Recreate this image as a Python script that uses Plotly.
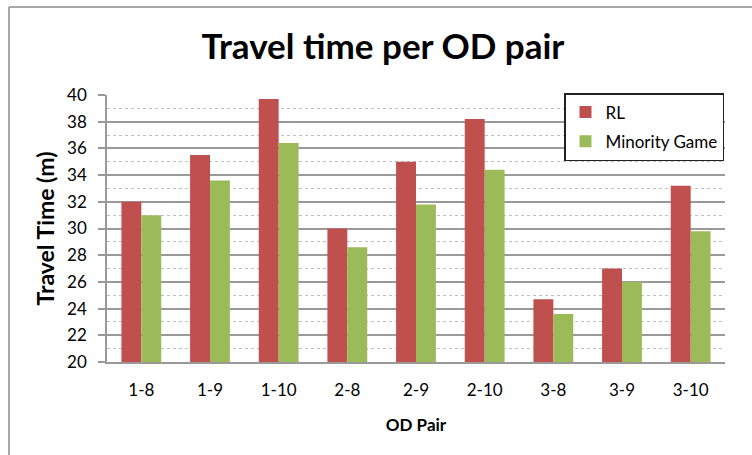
import plotly.graph_objects as go

categories = ["1-8", "1-9", "1-10", "2-8", "2-9", "2-10", "3-8", "3-9", "3-10"]
rl_values = [32.0, 35.5, 39.7, 30.0, 35.0, 38.2, 24.7, 27.0, 33.2]
mg_values = [31.0, 33.6, 36.4, 28.6, 31.8, 34.4, 23.6, 26.0, 29.8]
y_ticks = list(range(20, 41, 2))

W, H = 752, 455
L, R, T, B = 107, 725, 95, 362
FONT = "Lato, 'Open Sans', sans-serif"

fig = go.Figure()
fig.add_trace(go.Bar(x=categories, y=rl_values, name="RL", marker_color="#C0504D",
                     legendgroup="a", marker_line_width=0))
fig.add_trace(go.Bar(x=categories, y=mg_values, name="Minority Game", marker_color="#9BBB59",
                     legendgroup="b", marker_line_width=0))

def px_x(px):
    return (px - L) / (R - L)

def px_y(py):
    return (B - py) / (B - T)

shapes = [
    dict(type="line", xref="paper", yref="paper", x0=px_x(9), x1=px_x(9), y0=px_y(7), y1=px_y(470),
         line=dict(color="#8a8a8a", width=1.5)),
    dict(type="line", xref="paper", yref="paper", x0=px_x(9), x1=px_x(760), y0=px_y(7), y1=px_y(7),
         line=dict(color="#8a8a8a", width=1.5)),
]

fig.update_layout(
    width=W, height=H,
    margin=dict(l=L, r=W - R, t=T, b=H - B, autoexpand=False),
    paper_bgcolor="white", plot_bgcolor="white",
    barmode="group", bargap=0.42, bargroupgap=0,
    font=dict(family=FONT, color="#000000", size=14),
    title=dict(text="<b>Travel time per OD pair</b>", x=383 / W, xanchor="center",
               y=1 - 47 / H, yanchor="middle", font=dict(size=35, family=FONT)),
    shapes=shapes,
    showlegend=True,
    legend=dict(x=px_x(564), y=px_y(93), xanchor="left", yanchor="top",
                bgcolor="white", bordercolor="#222222", borderwidth=1.5,
                traceorder="grouped", tracegroupgap=4,
                font=dict(size=17, family=FONT)),
    xaxis=dict(showgrid=False, showline=True, linecolor="#999999", linewidth=1.5,
               ticks="", tickfont=dict(size=17), ticklabelstandoff=12, automargin=False,
               title=dict(text="<b>OD Pair</b>", font=dict(size=17), standoff=20)),
    yaxis=dict(range=[20, 40], tickvals=y_ticks, showline=True, linecolor="#999999", linewidth=1.5,
               ticks="outside", ticklen=7, tickcolor="#999999", tickwidth=1.5,
               showgrid=True, gridcolor="#9a9a9a", gridwidth=1.5,
               minor=dict(dtick=1, showgrid=True, gridcolor="#c0c0c0", griddash="dot", gridwidth=1),
               tickfont=dict(size=17), ticklabelstandoff=8, zeroline=False, automargin=False,
               title=dict(text="<b>Travel Time (m)</b>", font=dict(size=23), standoff=6)),
)

fig.write_html("out.html", config={"displayModeBar": False},
               post_script="document.body.style.margin='0';")
